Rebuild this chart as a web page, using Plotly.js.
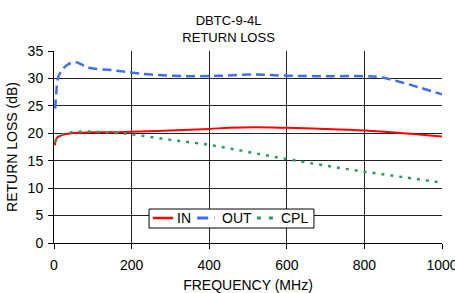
<!DOCTYPE html>
<html><head><meta charset="utf-8">
<script src="https://cdn.plot.ly/plotly-3.0.1.min.js"></script>
<style>html,body{margin:0;padding:0;background:#fff}#c{width:455px;height:293px}</style>
</head><body><div id="c"></div>
<script>
var inFreq = [2, 7, 15, 28, 45, 67, 100, 150, 200, 300, 400, 450, 520, 600, 700, 800, 900, 1000];
var inVals = [17.8, 19.1, 19.5, 19.8, 20.0, 20.1, 20.2, 20.2, 20.3, 20.5, 20.8, 21.0, 21.1, 21.0, 20.8, 20.5, 20.0, 19.4];
var outFreq = [3, 6, 10, 20, 35, 54, 75, 93, 150, 197, 250, 343, 430, 515, 602, 700, 800, 842, 900, 1000];
var outVals = [24.5, 27.5, 30.0, 31.5, 32.5, 33.0, 32.4, 31.9, 31.5, 31.1, 30.7, 30.4, 30.5, 30.7, 30.5, 30.4, 30.4, 30.2, 29.2, 27.1];
var cplFreq = [3, 8, 16, 30, 50, 67, 100, 150, 200, 300, 400, 500, 600, 700, 800, 900, 1000];
var cplVals = [18.5, 19.1, 19.6, 20.0, 20.2, 20.3, 20.3, 20.1, 19.8, 18.8, 17.9, 16.6, 15.3, 14.1, 13.0, 12.0, 11.0];
var seriesNames = ['IN', 'OUT', 'CPL'];
var seriesColors = ['#ff0000', '#3f6ef5', '#2e9a5e'];
var seriesDash = ['solid', '9px,5px', '3px,6px'];
var seriesWidth = [2, 2.5, 2.5];
var xTicks = [0, 200, 400, 600, 800, 1000];

var xs = [inFreq, outFreq, cplFreq], ys = [inVals, outVals, cplVals];
var traces = xs.map(function (x, i) {
  return {x: x, y: ys[i], name: seriesNames[i], mode: 'lines', showlegend: false,
    line: {color: seriesColors[i], width: seriesWidth[i], dash: seriesDash[i], shape: 'spline'}};
});

// custom compact legend (paper coordinates of the plot area)
var legSymX = [[0.255, 0.307], [0.369, 0.414], [0.523, 0.566]];
var legTextX = [0.313, 0.427, 0.580];
var legY = 0.130;
var shapes = [{type: 'rect', xref: 'paper', yref: 'paper', x0: 0.245, x1: 0.670, y0: 0.078, y1: 0.177,
  fillcolor: '#fff', line: {color: '#000', width: 1}, layer: 'above'}];
var annotations = [];
for (var i = 0; i < 3; i++) {
  shapes.push({type: 'line', xref: 'paper', yref: 'paper', x0: legSymX[i][0], x1: legSymX[i][1], y0: legY, y1: legY,
    line: {color: seriesColors[i], width: seriesWidth[i] + 0.5, dash: i === 0 ? 'solid' : (i === 1 ? '11px,6px' : '4px,8px')}, layer: 'above'});
  annotations.push({xref: 'paper', yref: 'paper', x: legTextX[i], y: legY, xanchor: 'left', yanchor: 'middle',
    text: seriesNames[i], showarrow: false, font: {size: 14, color: '#000'}});
}

var layout = {
  width: 455, height: 293,
  margin: {l: 54, r: 13, t: 51, b: 50},
  paper_bgcolor: '#fff', plot_bgcolor: '#fff',
  font: {family: 'Liberation Sans, Arial, sans-serif', size: 14, color: '#000'},
  title: {text: 'DBTC-9-4L<br>RETURN LOSS', font: {size: 13}, xref: 'paper', x: 0.45, xanchor: 'center',
    yref: 'container', y: 0.915, yanchor: 'middle'},
  showlegend: false,
  shapes: shapes, annotations: annotations,
  xaxis: {range: [0, 1000], tickvals: xTicks, showgrid: true, gridcolor: '#222', gridwidth: 1,
    zeroline: false, showline: true, linecolor: '#000', linewidth: 1,
    ticks: 'outside', ticklen: 5, tickcolor: '#000', ticklabelstandoff: 4, tickfont: {size: 14},
    ticklabeloverflow: 'allow',
    title: {text: 'FREQUENCY (MHz)', font: {size: 14}, standoff: 16}, fixedrange: true},
  yaxis: {range: [0, 35], dtick: 5, showgrid: true, gridcolor: '#222', gridwidth: 1,
    zeroline: false, showline: true, linecolor: '#000', linewidth: 1,
    ticks: 'outside', ticklen: 5, tickcolor: '#000', ticklabelstandoff: 2, tickfont: {size: 14},
    title: {text: 'RETURN LOSS (dB)', font: {size: 14}, standoff: 6}, fixedrange: true}
};
Plotly.newPlot('c', traces, layout, {displayModeBar: false, staticPlot: true});
</script></body></html>
